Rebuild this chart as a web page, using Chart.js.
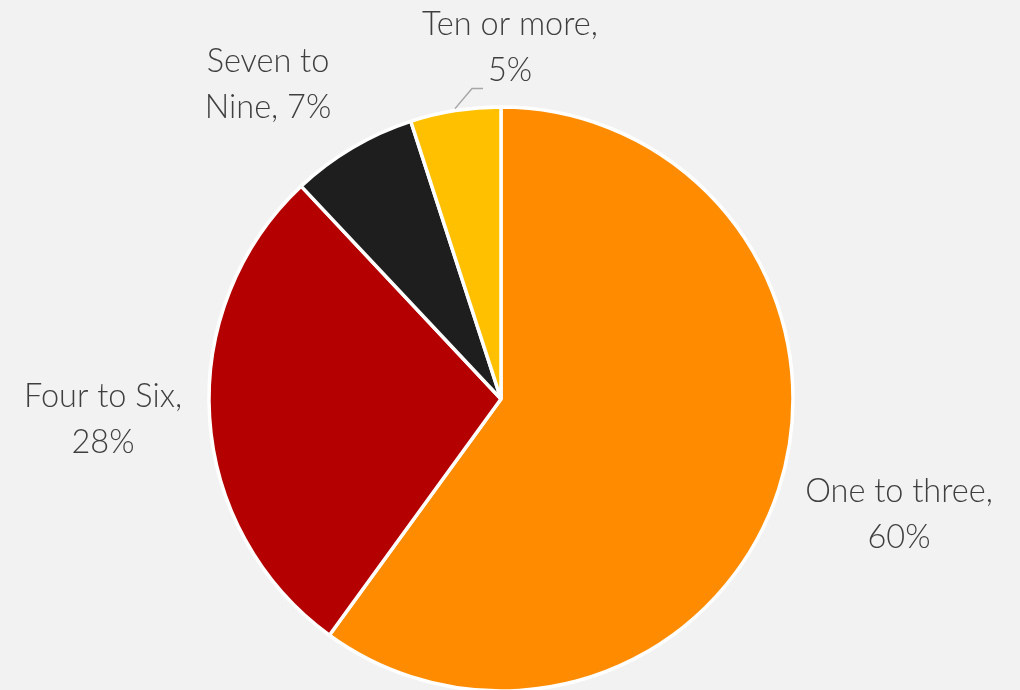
<!DOCTYPE html>
<html>
<head>
<meta charset="utf-8">
<script src="https://cdn.jsdelivr.net/npm/chart.js@4/dist/chart.umd.min.js"></script>
<style>
  html, body { margin: 0; padding: 0; background: #F2F2F2; }
  #wrap { width: 1020px; height: 690px; position: relative; }
</style>
</head>
<body>
<div id="wrap"><canvas id="pie" width="1020" height="690"></canvas></div>
<script>
// Number of items per respondent, share of responses (%)
const categories = ['One to three', 'Four to Six', 'Seven to Nine', 'Ten or more'];
const shares = [60, 28, 7, 5];
const sliceColors = ['#FF8C00', '#B50000', '#1E1E1E', '#FFC000'];

// Text lines for each slice label
const labelLines = [
  ['One to three,', '60%'],
  ['Four to Six,', '28%'],
  ['Seven to', 'Nine, 7%'],
  ['Ten or more,', '5%']
];
// Centre of each label block (px)
const labelCenters = [
  [899, 515],
  [103, 420],
  [268, 85],
  [510, 48]
];

const FONT = '300 32.5px Lato, "Open Sans", sans-serif';
const LINE_H = 46;

const sliceLabels = {
  id: 'sliceLabels',
  afterDatasetsDraw(chart) {
    const ctx = chart.ctx;
    const arcs = chart.getDatasetMeta(0).data;
    ctx.save();
    ctx.font = FONT;
    ctx.fillStyle = '#3F3F3F';
    ctx.textAlign = 'center';
    ctx.textBaseline = 'middle';
    labelLines.forEach((lines, i) => {
      const [cx, cy] = labelCenters[i];
      const top = cy - (lines.length - 1) * LINE_H / 2;
      lines.forEach((t, k) => ctx.fillText(t, cx, top + k * LINE_H));
    });
    // leader line for the small slice at the top
    const a = arcs[3];
    const mid = (a.startAngle + a.endAngle) / 2;
    const r = a.outerRadius + 2;
    const x0 = a.x + Math.cos(mid) * r;
    const y0 = a.y + Math.sin(mid) * r;
    ctx.strokeStyle = '#A6A6A6';
    ctx.lineWidth = 1.5;
    ctx.beginPath();
    ctx.moveTo(x0, y0);
    ctx.lineTo(x0 + 17, y0 - 20);
    ctx.lineTo(x0 + 28, y0 - 20);
    ctx.stroke();
    ctx.restore();
  }
};

new Chart(document.getElementById('pie'), {
  type: 'pie',
  data: {
    labels: categories,
    datasets: [{
      data: shares,
      backgroundColor: sliceColors,
      borderColor: '#FFFFFF',
      borderWidth: 3.5
    }]
  },
  options: {
    responsive: false,
    animation: false,
    radius: 292,
    layout: { padding: { left: 0, right: 18, top: 108, bottom: 0 } },
    plugins: {
      legend: { display: false },
      tooltip: { enabled: false }
    }
  },
  plugins: [sliceLabels]
});
</script>
</body>
</html>
